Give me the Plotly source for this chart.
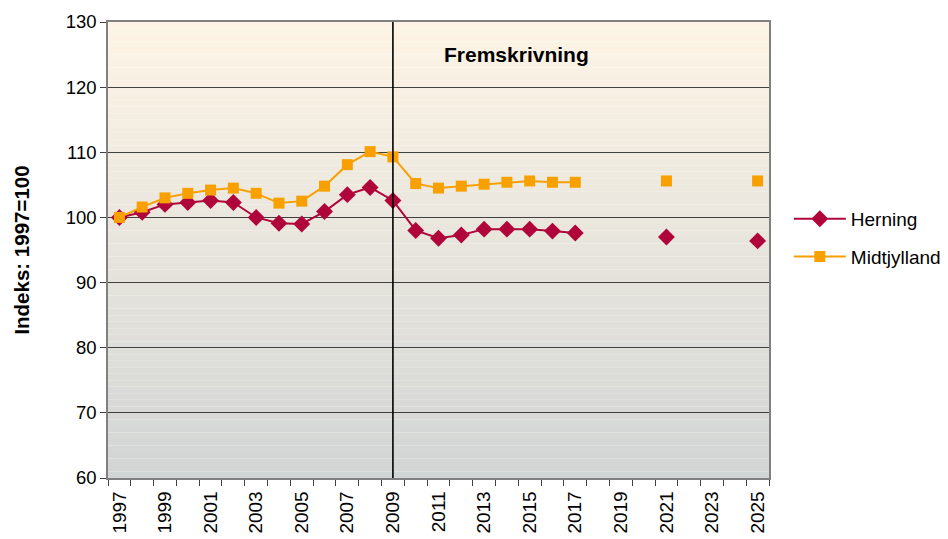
import plotly.graph_objects as go

years = list(range(1997, 2026))
herning = [100.0, 100.8, 102.0, 102.3, 102.6, 102.3, 100.0, 99.1, 99.0, 100.9,
           103.5, 104.6, 102.6, 98.0, 96.8, 97.3, 98.2, 98.2, 98.2, 97.9,
           97.6, None, None, None, 97.0, None, None, None, 96.4]
midtjylland = [100.0, 101.6, 103.0, 103.7, 104.2, 104.5, 103.7, 102.2, 102.5, 104.8,
               108.1, 110.1, 109.3, 105.2, 104.5, 104.8, 105.1, 105.4, 105.6, 105.4,
               105.4, None, None, None, 105.6, None, None, None, 105.6]
tick_years = list(range(1997, 2026, 2))
y_ticks = list(range(60, 131, 10))

fig = go.Figure()

# gradient background
top = (253, 244, 229)
bot = (210, 213, 213)
n = 70
shapes = []
for i in range(n):
    t = i / (n - 1)
    c = tuple(int(round(top[k] * (1 - t) + bot[k] * t)) for k in range(3))
    shapes.append(dict(type="rect", xref="x domain", yref="y domain",
                       x0=0, x1=1, y0=1 - (i + 1) / n, y1=1 - i / n,
                       fillcolor="rgb(%d,%d,%d)" % c, line=dict(width=0), layer="below"))
shapes.append(dict(type="line", xref="x", yref="y", x0=2009, x1=2009, y0=60, y1=130,
                   line=dict(color="black", width=1.6)))

fig.add_trace(go.Scatter(x=years, y=herning, name="Herning", mode="lines+markers",
                         legendgroup="a",
                         line=dict(color="#B0053A", width=2),
                         marker=dict(symbol="diamond", size=13, color="#B0053A"),
                         connectgaps=False))
fig.add_trace(go.Scatter(x=years, y=midtjylland, name="Midtjylland", mode="lines+markers",
                         legendgroup="b",
                         line=dict(color="#F7A000", width=2),
                         marker=dict(symbol="square", size=11, color="#F7A000"),
                         connectgaps=False))

fig.add_annotation(x=2014.4, y=125, xref="x", yref="y", text="<b>Fremskrivning</b>",
                   showarrow=False, font=dict(size=21, color="black", family="Liberation Sans"))

fig.update_layout(
    width=940, height=531,
    margin=dict(l=100, r=179, t=14, b=61, autoexpand=False),
    paper_bgcolor="white", plot_bgcolor="rgba(0,0,0,0)",
    shapes=shapes,
    font=dict(family="Liberation Sans, Arial", size=18, color="black"),
    showlegend=True,
    legend=dict(x=1.03, y=0.61, xanchor="left", yanchor="top",
                font=dict(size=19), traceorder="grouped", tracegroupgap=10, itemwidth=52,
                bgcolor="rgba(0,0,0,0)"),
)
fig.update_xaxes(range=[1996.5, 2025.5], tickvals=tick_years, ticktext=[str(y) for y in tick_years],
                 tickangle=-90, ticks="", showgrid=False, zeroline=False, automargin=False,
                 showline=True, linecolor="#808080", linewidth=1.5, mirror=True,
                 ticklabelstandoff=4,
                 minor=dict(tickvals=[y + 0.5 for y in range(1996, 2026)], ticks="outside",
                            ticklen=6, tickcolor="#404040", showgrid=False),
                 tickfont=dict(size=19))
fig.update_yaxes(range=[60, 130], tickvals=y_ticks, ticks="outside", ticklen=6,
                 tickcolor="#404040", showgrid=True, gridcolor="#404040", gridwidth=1,
                 zeroline=False, showline=True, linecolor="#808080", linewidth=1.5, mirror=True,
                 automargin=False,
                 title=dict(text="<b>Indeks: 1997=100</b>", font=dict(size=20.5), standoff=30),
                 tickfont=dict(size=18.5))

fig.write_html("out.html")
